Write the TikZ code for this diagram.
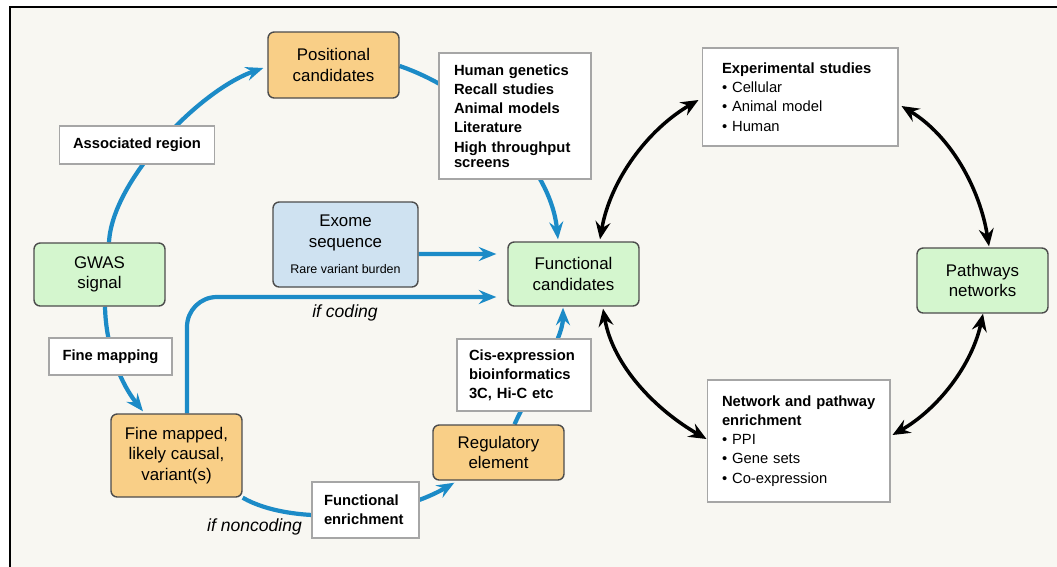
\documentclass[tikz,border=0pt]{standalone}
\usepackage{fontspec}
\setmainfont{Liberation Sans}
\usetikzlibrary{arrows.meta,backgrounds,calc}
\definecolor{paper}{HTML}{F8F7F2}
\definecolor{candorange}{HTML}{F9CF87}
\definecolor{candgreen}{HTML}{D4F6CE}
\definecolor{candblue}{HTML}{CFE2F1}
\definecolor{flowblue}{HTML}{1C8BC7}
\begin{document}
\begin{tikzpicture}[x=0.02cm,y=-0.02cm,
  every node/.style={font=\fontsize{9.6}{11.6}\selectfont},
  cand/.style={draw=black!70,line width=0.8pt,rounded corners=3.5pt,align=center,inner sep=0pt,minimum width=2.62cm},
  note/.style={draw=black!35,line width=0.6pt,fill=white,inner sep=0pt,font=\fontsize{8.4}{10.9}\selectfont\bfseries},
  listnote/.style={note,align=left,inner ysep=0pt},
  flow/.style={draw=flowblue,line width=2.4pt,-{Stealth[length=10pt,width=8pt,inset=3.5pt]}},
  link/.style={draw=black,line width=2pt,{Stealth[length=10pt,width=8.5pt,inset=3.5pt]}-{Stealth[length=10pt,width=8.5pt,inset=3.5pt]}}]
\useasboundingbox (0,0) rectangle (1057,566);
% candidate boxes
\node[cand,fill=candgreen,minimum height=1.26cm] (gwas) at (99.5,274.5) {GWAS\\signal};
\node[cand,fill=candorange,minimum height=1.32cm] (pos) at (333.5,65) {Positional\\candidates};
\node[cand,fill=candblue,minimum width=2.9cm,minimum height=1.7cm] (exome) at (345.5,244.5)
  {Exome\\sequence\\[3.7pt]{\fontsize{7.1}{8.5}\selectfont Rare variant burden}};
\node[cand,fill=candgreen,minimum height=1.28cm] (fc) at (573.5,274) {Functional\\candidates};
\node[cand,fill=candgreen,minimum height=1.3cm] (pw) at (982.5,280.5) {Pathways\\networks};
\node[cand,fill=candorange,minimum height=1.66cm,font=\fontsize{9.6}{11.8}\selectfont] (fm) at (176.5,455.5)
  {Fine mapped,\\likely causal,\\variant(s)};
\node[cand,fill=candorange,minimum height=1.1cm] (reg) at (498.5,452.5) {Regulatory\\element};
% labels on the arrows
\node[note,minimum width=3.1cm,minimum height=0.76cm] (assoc) at (137,145) {Associated region};
\node[note,minimum width=2.46cm,minimum height=0.74cm] (fmap) at (110.5,356.5) {Fine mapping};
\node[listnote,text width=2.44cm,inner xsep=0.3cm,minimum height=2.52cm] (hg) at (515,116)
  {Human genetics\\Recall studies\\Animal models\\Literature\\High throughput\\[-2.4pt]screens};
\node[listnote,text width=2.2cm,inner xsep=0.24cm,minimum height=1.44cm] (cis) at (524,375)
  {Cis-expression\\bioinformatics\\3C, Hi-C etc};
\node[listnote,text width=1.66cm,inner xsep=0.24cm,minimum height=1.12cm] (fe) at (365.5,510)
  {Functional\\enrichment};
\node[listnote,text width=3.12cm,inner xsep=0.4cm,minimum height=1.96cm] (exp) at (800,97)
  {Experimental studies\\\mdseries\textbullet\ Cellular\\\textbullet\ Animal model\\\textbullet\ Human};
\node[listnote,text width=3.06cm,inner xsep=0.3cm,minimum height=2.44cm] (net) at (798.5,441)
  {\mbox{Network and pathway}\\enrichment\\\mdseries\textbullet\ PPI\\\textbullet\ Gene sets\\\textbullet\ Co-expression};
\node[font=\fontsize{10}{12}\selectfont\itshape] (coding) at (345,313) {if coding};
\node[font=\fontsize{10}{12}\selectfont\itshape] (noncoding) at (254.5,527) {if noncoding};
\begin{scope}[on background layer]
\fill[white] (0,0) rectangle (1057,566);
\fill[paper] (10,7) rectangle (1080,590);
\draw[line width=1.1pt] (10,590) -- (10,7) -- (1080,7);
% blue flow
\draw[flow] ($(gwas.north)+(9.5,0)$) .. controls (112,180) and (200,90) .. ($(pos.west)+(-4,3)$);
\draw[flow] ($(pos.east)+(0,1)$) .. controls (470,90) and (550,160) .. ($(fc.north)+(-15.5,-2)$);
\draw[flow] ($(exome.east)+(0,9.5)$) -- ($(fc.west)+(-11,-20)$);
\draw[flow,rounded corners=17pt] ($(fm.north)+(10.5,0)$) |- ($(fc.west)+(-11,23)$);
\draw[flow] ($(gwas.south)+(5.5,0)$) .. controls (106,350) and (122,385) .. ($(fm.north)+(-33.5,-2)$);
\draw[flow] (fm.south east) .. controls (290,525) and (390,520) .. ($(reg.south west)+(22,2)$);
\draw[flow] ($(reg.north)+(16,0)$) .. controls (530,390) and (563,340) .. ($(fc.south)+(-10.5,1)$);
% black links
\draw[link] ($(fc.north)+(26.5,-2)$) .. controls (610,181) and (647,130) .. ($(exp.west)+(-3,3)$);
\draw[link] ($(exp.east)+(3,9)$) .. controls (951,136) and (980,189) .. ($(pw.north)+(6.5,-1)$);
\draw[link] ($(fc.south)+(29.5,2)$) .. controls (613,366) and (656,410) .. ($(net.west)+(0,-2)$);
\draw[link] ($(net.east)+(2,-6)$) .. controls (938,409) and (972,365) .. ($(pw.south)+(0.5,0)$);
\end{scope}
\end{tikzpicture}
\end{document}
